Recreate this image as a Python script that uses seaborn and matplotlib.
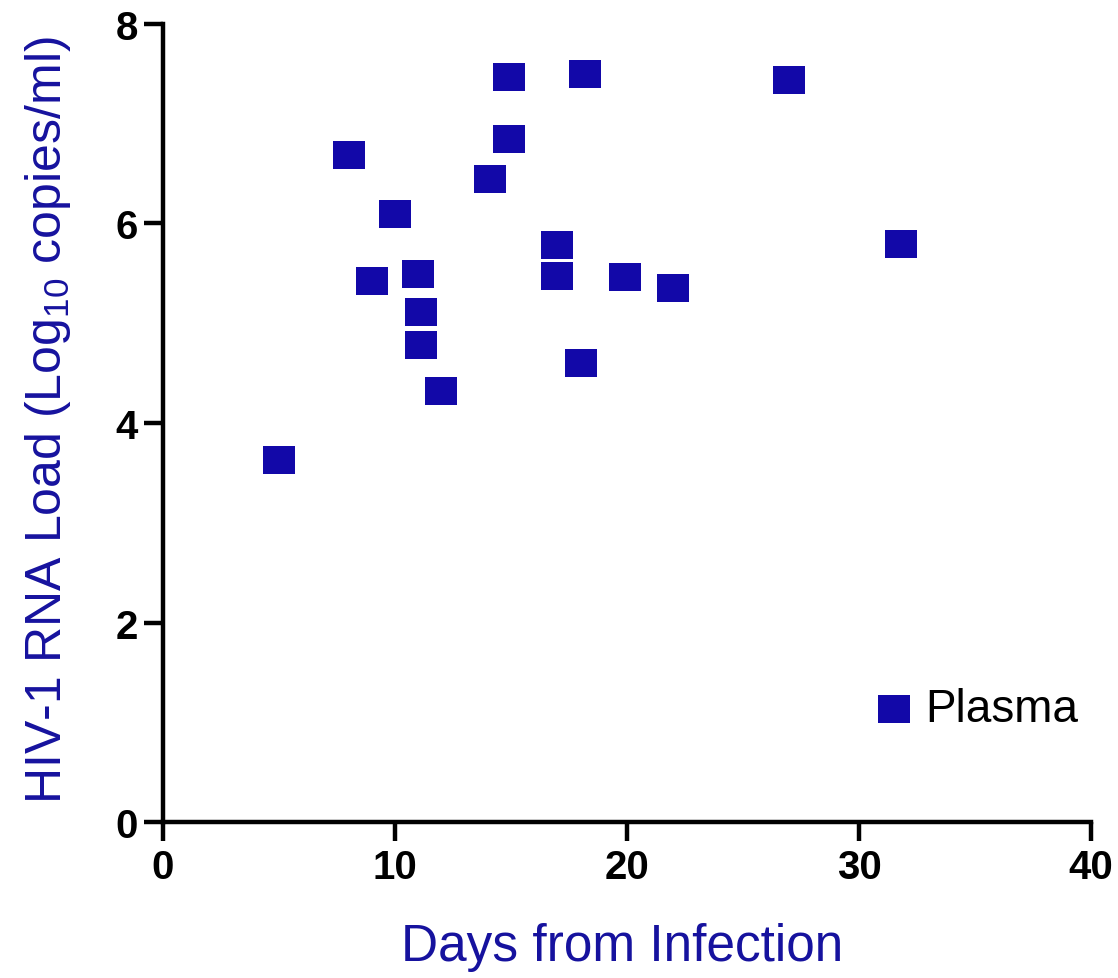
import matplotlib
matplotlib.use("Agg")
import matplotlib.pyplot as plt
import seaborn as sns
import pandas as pd

# Days after infection and plasma viral load (log10 copies/ml)
days = [5, 8, 9, 10, 11, 11.1, 11.1, 12, 14.1, 14.9, 14.9, 17, 17, 18, 18.2, 19.9, 22, 27, 31.8]
load = [3.63, 6.69, 5.42, 6.10, 5.49, 5.11, 4.78, 4.32, 6.45, 7.47, 6.85, 5.78, 5.47, 4.60, 7.50, 5.46, 5.35, 7.44, 5.79]
series_name = "Plasma"
x_ticks = [0, 10, 20, 30, 40]
y_ticks = [0, 2, 4, 6, 8]

df = pd.DataFrame({"days": days, "load": load})

sns.set_theme(style="ticks")
plt.rcParams["font.family"] = ["Liberation Sans", "DejaVu Sans"]
plt.rcParams["mathtext.default"] = "regular"
plt.rcParams["text.color"] = "black"
plt.rcParams["xtick.color"] = "black"
plt.rcParams["ytick.color"] = "black"

blue = "#1208A8"
label_blue = "#16129E"

fig = plt.figure(figsize=(11.18, 9.79), dpi=100)
ax = fig.add_axes([0.1458, 0.1593, 0.8300, 0.8152])

# slightly wide rectangular marker
rect = [(-1.0, -0.89), (1.0, -0.89), (1.0, 0.89), (-1.0, 0.89), (-1.0, -0.89)]

sns.scatterplot(data=df, x="days", y="load", ax=ax, marker=rect, s=500,
                color=blue, linewidth=0, label=series_name, zorder=3)

ax.set_xlim(0, 40)
ax.set_ylim(0, 8)
ax.set_xticks(x_ticks)
ax.set_yticks(y_ticks)
ax.set_xticklabels([str(t) for t in x_ticks], fontsize=29, fontweight="bold", color="black")
ax.set_yticklabels([str(t) for t in y_ticks], fontsize=29, fontweight="bold", color="black")
ax.tick_params(axis="both", direction="out", length=14, width=3.2, color="black")
ax.tick_params(axis="x", pad=5)
ax.tick_params(axis="y", pad=4)

sns.despine(ax=ax)
for side in ("left", "bottom"):
    ax.spines[side].set_linewidth(3.2)
    ax.spines[side].set_color("black")

ax.set_xlabel("Days from Infection", fontsize=37, color=label_blue)
ax.set_ylabel("HIV-1 RNA Load (Log$_{10}$ copies/ml)", fontsize=36, color=label_blue)
ax.xaxis.set_label_coords(0.495, -0.125)
ax.yaxis.set_label_coords(-0.097, 0.505)

leg = ax.legend(loc="center left", bbox_to_anchor=(0.770, 0.1416), frameon=False,
                fontsize=33, handlelength=0.7, handletextpad=0.35, borderpad=0,
                borderaxespad=0)
for t in leg.get_texts():
    t.set_color("black")

fig.savefig("out.png", dpi=100, facecolor="white")
